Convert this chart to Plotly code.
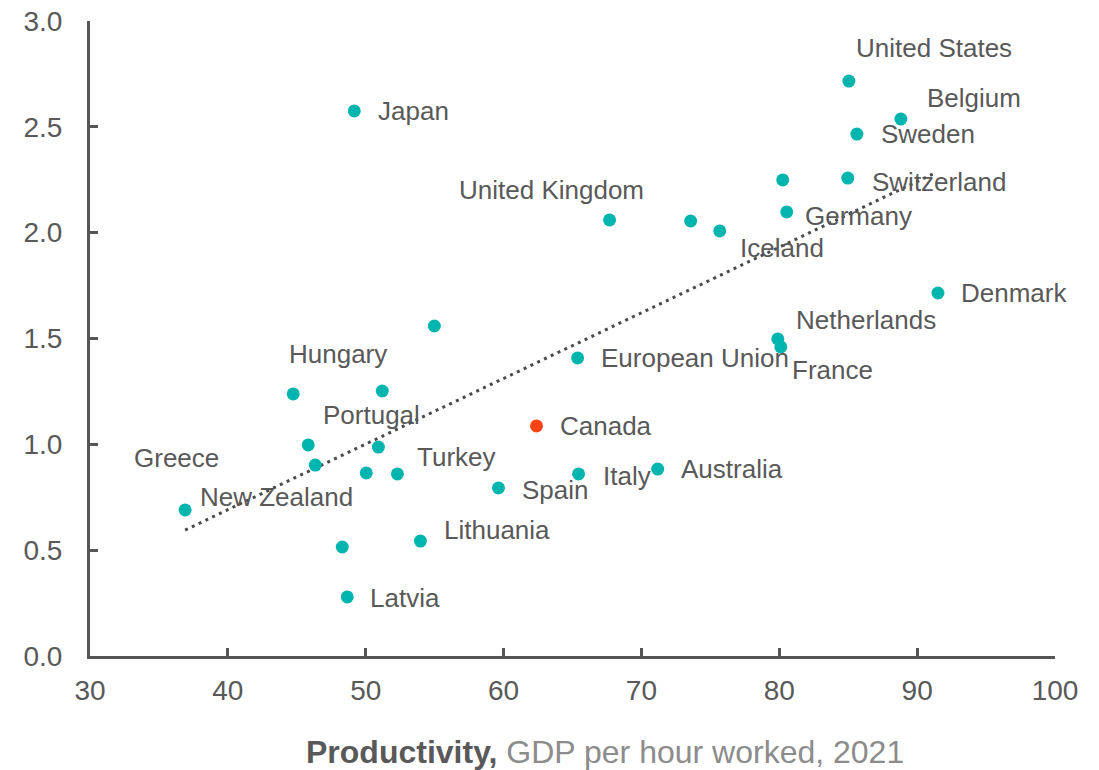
import plotly.graph_objects as go

# Data
countries = ["United States", "Belgium", "Sweden", "Japan", "", "Switzerland",
             "United Kingdom", "", "Germany", "Iceland", "Denmark", "Netherlands",
             "France", "European Union", "", "Hungary", "", "Portugal", "Canada",
             "Greece", "", "New Zealand", "", "Turkey", "Spain", "Italy",
             "Australia", "Lithuania", "", "Latvia"]
productivity = [85.05, 88.82, 85.63, 49.17, 80.25, 84.97,
                67.69, 73.57, 80.54, 75.68, 91.51, 79.89,
                80.11, 65.37, 54.98, 44.74, 51.20, 50.92, 62.39,
                36.90, 45.83, 46.34, 50.04, 52.30, 59.63, 65.44,
                71.18, 53.97, 48.30, 48.66]
yvalues = [2.716, 2.537, 2.466, 2.575, 2.249, 2.258,
           2.060, 2.055, 2.098, 2.008, 1.715, 1.498,
           1.460, 1.408, 1.559, 1.238, 1.252, 0.987, 1.087,
           0.690, 0.997, 0.902, 0.865, 0.860, 0.794, 0.860,
           0.883, 0.543, 0.515, 0.279]

trend_x = [36.9, 91.4]
trend_y = [0.595, 2.285]

x_ticks = [30, 40, 50, 60, 70, 80, 90, 100]
y_ticks = [0.0, 0.5, 1.0, 1.5, 2.0, 2.5, 3.0]
y_tick_labels = ["0.0", "0.5", "1.0", "1.5", "2.0", "2.5", "3.0"]

# Label placement styles (anchor, xshift px, yshift px)
label_style = {
    "United States": ("center", 85, 33),
    "Belgium": ("left", 24, 21),
    "Sweden": ("left", 22, 0),
    "Japan": ("left", 22, 0),
    "Switzerland": ("left", 22, -4),
    "United Kingdom": ("center", -58, 30),
    "Germany": ("left", 16, -4),
    "Iceland": ("left", 18, -17),
    "Denmark": ("left", 21, 0),
    "Netherlands": ("left", 16, 19),
    "France": ("left", 9, -23),
    "European Union": ("left", 21, 0),
    "Hungary": ("center", 45, 40),
    "Portugal": ("center", -7, 32),
    "Canada": ("left", 21, 0),
    "Greece": ("center", -9, 52),
    "New Zealand": ("center", -39, -32),
    "Turkey": ("left", 18, 17),
    "Spain": ("left", 22, -2),
    "Italy": ("left", 22, -2),
    "Australia": ("left", 21, 0),
    "Lithuania": ("left", 22, 11),
    "Latvia": ("left", 21, -1),
}

TEAL = "#00B5AD"
RED = "#FF4516"
AXIS = "#555555"
TEXT = "#595959"
FONT = "Liberation Sans, Arial, sans-serif"

colors = [RED if c == "Canada" else TEAL for c in countries]

fig = go.Figure()
fig.add_trace(go.Scatter(
    x=trend_x, y=trend_y, mode="lines",
    line=dict(color="#4a4a4a", width=3, dash="3px,4.5px"),
    hoverinfo="skip", showlegend=False,
))
fig.add_trace(go.Scatter(
    x=productivity, y=yvalues, mode="markers",
    marker=dict(size=13, color=colors, line=dict(width=0)),
    text=countries, showlegend=False,
))

annotations = []
for name, xv, yv in zip(countries, productivity, yvalues):
    if not name:
        continue
    anchor, dx, dy = label_style[name]
    annotations.append(dict(
        x=xv, y=yv, xref="x", yref="y", text=name, showarrow=False,
        xanchor=anchor, yanchor="middle", xshift=dx, yshift=dy,
        font=dict(family=FONT, size=26, color=TEXT),
    ))

annotations.append(dict(
    x=0.534, y=-0.151, xref="paper", yref="paper", showarrow=False,
    xanchor="center", yanchor="middle",
    text="<b>Productivity,</b> <span style='color:#8c8c8c'>GDP per hour worked, 2021</span>",
    font=dict(family=FONT, size=32, color=TEXT),
))

fig.update_layout(
    width=1099, height=770,
    margin=dict(l=90, r=44, t=21, b=114),
    paper_bgcolor="white", plot_bgcolor="white",
    font=dict(family=FONT, color=TEXT),
    annotations=annotations,
    xaxis=dict(
        range=[30, 100], tickvals=x_ticks, ticktext=[str(t) for t in x_ticks],
        showgrid=False, zeroline=False, showline=True, linecolor=AXIS, linewidth=3,
        ticks="inside", ticklen=8, tickwidth=3, tickcolor=AXIS, automargin=False,
        tickfont=dict(family=FONT, size=28, color=TEXT), ticklabelstandoff=7,
    ),
    yaxis=dict(
        range=[0, 3], tickvals=y_ticks, ticktext=y_tick_labels,
        showgrid=False, zeroline=False, showline=True, linecolor=AXIS, linewidth=3,
        ticks="inside", ticklen=8, tickwidth=3, tickcolor=AXIS, automargin=False,
        tickfont=dict(family=FONT, size=28, color=TEXT), ticklabelstandoff=19,
    ),
)

fig.write_html("out.html")
